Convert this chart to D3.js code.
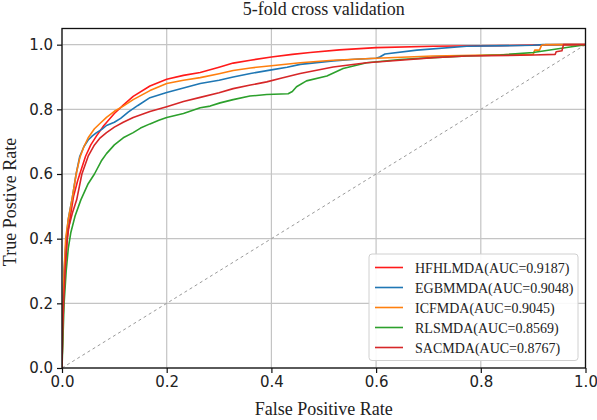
<!DOCTYPE html>
<html>
<head>
<meta charset="utf-8">
<script src="https://cdn.jsdelivr.net/npm/d3@7"></script>
<style>
  html, body { margin: 0; padding: 0; background: #fff; }
  svg { display: block; }
</style>
</head>
<body>
<svg id="chart" width="597" height="420"></svg>
<script>
// ---------------- DATA ----------------
const seriesNames = ["HFHLMDA(AUC=0.9187)", "EGBMMDA(AUC=0.9048)", "ICFMDA(AUC=0.9045)", "RLSMDA(AUC=0.8569)", "SACMDA(AUC=0.8767)"];
const xTicks = [0.0, 0.2, 0.4, 0.6, 0.8, 1.0];
const yTicks = [0.0, 0.2, 0.4, 0.6, 0.8, 1.0];

const hfhlmdaFpr = [0, 0.001, 0.003, 0.006, 0.010, 0.016, 0.022, 0.030, 0.036, 0.045, 0.055, 0.066, 0.080, 0.100, 0.117, 0.136, 0.168, 0.200, 0.232, 0.264, 0.300, 0.327, 0.360, 0.400, 0.440, 0.474, 0.530, 0.600, 0.709, 0.837, 0.958, 1.0];
const hfhlmdaTpr = [0, 0.10, 0.20, 0.30, 0.40, 0.47, 0.53, 0.58, 0.61, 0.655, 0.690, 0.718, 0.750, 0.787, 0.813, 0.840, 0.872, 0.893, 0.905, 0.914, 0.930, 0.943, 0.952, 0.962, 0.970, 0.976, 0.984, 0.991, 0.995, 0.997, 1.0, 1.0];

const egbmmdaFpr = [0, 0.001, 0.002, 0.004, 0.008, 0.012, 0.020, 0.027, 0.034, 0.042, 0.050, 0.058, 0.066, 0.076, 0.085, 0.100, 0.112, 0.127, 0.145, 0.168, 0.200, 0.232, 0.264, 0.300, 0.327, 0.360, 0.400, 0.430, 0.455, 0.518, 0.560, 0.600, 0.607, 0.617, 0.678, 0.773, 0.900, 0.919, 1.0];
const egbmmdaTpr = [0, 0.10, 0.20, 0.30, 0.40, 0.46, 0.53, 0.60, 0.655, 0.685, 0.705, 0.718, 0.728, 0.738, 0.750, 0.760, 0.772, 0.792, 0.812, 0.836, 0.852, 0.866, 0.880, 0.890, 0.900, 0.911, 0.922, 0.930, 0.939, 0.950, 0.955, 0.958, 0.962, 0.971, 0.983, 0.995, 0.998, 1.0, 1.0];

const icfmdaFpr = [0, 0.001, 0.002, 0.004, 0.007, 0.012, 0.019, 0.027, 0.034, 0.042, 0.050, 0.062, 0.073, 0.085, 0.100, 0.117, 0.136, 0.168, 0.200, 0.232, 0.264, 0.300, 0.327, 0.360, 0.400, 0.455, 0.518, 0.600, 0.709, 0.837, 0.900, 0.903, 0.912, 0.916, 0.923, 1.0];
const icfmdaTpr = [0, 0.10, 0.20, 0.30, 0.40, 0.46, 0.52, 0.60, 0.650, 0.685, 0.712, 0.740, 0.757, 0.775, 0.794, 0.810, 0.830, 0.858, 0.880, 0.890, 0.898, 0.910, 0.920, 0.928, 0.935, 0.944, 0.952, 0.958, 0.965, 0.969, 0.970, 0.983, 0.983, 0.998, 1.0, 1.0];

const rlsmdaFpr = [0, 0.002, 0.004, 0.008, 0.012, 0.017, 0.025, 0.036, 0.050, 0.062, 0.075, 0.085, 0.100, 0.117, 0.136, 0.150, 0.168, 0.185, 0.200, 0.232, 0.264, 0.283, 0.302, 0.327, 0.359, 0.391, 0.432, 0.440, 0.448, 0.467, 0.506, 0.537, 0.582, 0.646, 0.709, 0.773, 0.837, 0.900, 0.964, 1.0];
const rlsmdaTpr = [0, 0.10, 0.20, 0.30, 0.37, 0.42, 0.47, 0.52, 0.570, 0.600, 0.640, 0.663, 0.690, 0.712, 0.728, 0.742, 0.755, 0.766, 0.775, 0.787, 0.805, 0.810, 0.820, 0.830, 0.841, 0.846, 0.848, 0.855, 0.870, 0.888, 0.903, 0.926, 0.944, 0.954, 0.960, 0.965, 0.968, 0.976, 0.991, 1.0];

const sacmdaFpr = [0, 0.001, 0.003, 0.006, 0.009, 0.012, 0.020, 0.028, 0.038, 0.050, 0.062, 0.073, 0.085, 0.100, 0.117, 0.136, 0.168, 0.200, 0.232, 0.264, 0.300, 0.327, 0.360, 0.391, 0.420, 0.455, 0.518, 0.582, 0.646, 0.709, 0.773, 0.900, 0.942, 0.944, 0.955, 0.958, 1.0];
const sacmdaTpr = [0, 0.10, 0.20, 0.30, 0.38, 0.43, 0.48, 0.52, 0.600, 0.655, 0.690, 0.712, 0.728, 0.745, 0.760, 0.775, 0.793, 0.808, 0.824, 0.837, 0.851, 0.864, 0.875, 0.885, 0.897, 0.911, 0.931, 0.944, 0.952, 0.960, 0.965, 0.968, 0.970, 0.978, 0.981, 1.0, 1.0];

const seriesFpr = [hfhlmdaFpr, egbmmdaFpr, icfmdaFpr, rlsmdaFpr, sacmdaFpr];
const seriesTpr = [hfhlmdaTpr, egbmmdaTpr, icfmdaTpr, rlsmdaTpr, sacmdaTpr];

// ---------------- STYLE ----------------
const colors = ["#ff1a1a", "#1f77b4", "#ff7f0e", "#2ca02c", "#d62728"];
const W = 597, H = 420;
const margin = { left: 62, right: 11.5, top: 28.5, bottom: 52 };
const serif = "'Liberation Serif', 'Times New Roman', serif";
const sans = "'DejaVu Sans', sans-serif";

const svg = d3.select("#chart");
const x = d3.scaleLinear().domain([0, 1]).range([margin.left, W - margin.right]);
const y = d3.scaleLinear().domain([0, 1.05]).range([H - margin.bottom, margin.top]);

// grid
const grid = svg.append("g");
grid.selectAll("line.gx").data(xTicks).enter().append("line")
  .attr("x1", d => x(d)).attr("x2", d => x(d))
  .attr("y1", y(0)).attr("y2", y(1.05))
  .attr("stroke", "#c4c4c4").attr("stroke-width", 1.2);
grid.selectAll("line.gy").data(yTicks).enter().append("line")
  .attr("x1", x(0)).attr("x2", x(1))
  .attr("y1", d => y(d)).attr("y2", d => y(d))
  .attr("stroke", "#c4c4c4").attr("stroke-width", 1.2);

// diagonal
svg.append("line")
  .attr("x1", x(0)).attr("y1", y(0)).attr("x2", x(1)).attr("y2", y(1))
  .attr("stroke", "#9a9a9a").attr("stroke-width", 1).attr("stroke-dasharray", "3,3");

// curves
const clip = svg.append("clipPath").attr("id", "clip").append("rect")
  .attr("x", x(0)).attr("y", y(1.05)).attr("width", x(1) - x(0)).attr("height", y(0) - y(1.05));
const line = d3.line().x(d => x(d[0])).y(d => y(d[1]));
const curves = svg.append("g").attr("clip-path", "url(#clip)");
seriesNames.forEach((name, i) => {
  const pts = seriesFpr[i].map((f, k) => [f, seriesTpr[i][k]]);
  curves.append("path").datum(pts)
    .attr("d", line)
    .attr("fill", "none")
    .attr("stroke", colors[i])
    .attr("stroke-width", 1.6)
    .attr("stroke-linejoin", "round");
});

// frame
svg.append("rect")
  .attr("x", x(0)).attr("y", y(1.05)).attr("width", x(1) - x(0)).attr("height", y(0) - y(1.05))
  .attr("fill", "none").attr("stroke", "#111").attr("stroke-width", 1.3);

// axes
const xAxis = d3.axisBottom(x).tickValues(xTicks).tickFormat(d3.format(".1f")).tickSize(5).tickPadding(3);
const yAxis = d3.axisLeft(y).tickValues(yTicks).tickFormat(d3.format(".1f")).tickSize(5).tickPadding(4);
const gx = svg.append("g").attr("transform", `translate(0,${y(0)})`).call(xAxis);
const gy = svg.append("g").attr("transform", `translate(${x(0)},0)`).call(yAxis);
[gx, gy].forEach(g => {
  g.select(".domain").remove();
  g.selectAll(".tick line").attr("stroke", "#111").attr("stroke-width", 1.2);
  g.selectAll(".tick text").attr("font-family", sans).attr("font-size", 15).attr("fill", "#222");
});

// title & labels
svg.append("text").attr("x", (x(0) + x(1)) / 2).attr("y", 15)
  .attr("text-anchor", "middle").attr("font-family", serif).attr("font-size", 18).attr("fill", "#222")
  .text("5-fold cross validation");
svg.append("text").attr("x", (x(0) + x(1)) / 2).attr("y", 415)
  .attr("text-anchor", "middle").attr("font-family", serif).attr("font-size", 18).attr("fill", "#222")
  .text("False Positive Rate");
svg.append("text").attr("transform", `translate(16,202) rotate(-90)`)
  .attr("text-anchor", "middle").attr("font-family", serif).attr("font-size", 18).attr("fill", "#222")
  .text("True Postive Rate");

// legend
const lgRight = x(1) - 7.5, lgBottom = y(0) - 7.5;
const rowH = 20;
const lgW = 209, lgH = 106.5;
const lg = svg.append("g").attr("transform", `translate(${lgRight - lgW},${lgBottom - lgH})`);
lg.append("rect").attr("width", lgW).attr("height", lgH).attr("rx", 3)
  .attr("fill", "#fff").attr("fill-opacity", 0.9).attr("stroke", "#d0d0d0").attr("stroke-width", 1);
seriesNames.forEach((name, i) => {
  const cy = 13.5 + i * rowH;
  lg.append("line").attr("x1", 6).attr("x2", 34).attr("y1", cy).attr("y2", cy)
    .attr("stroke", colors[i]).attr("stroke-width", 1.6);
  lg.append("text").attr("x", 46).attr("y", cy + 5)
    .attr("font-family", serif).attr("font-size", 14).attr("fill", "#222").text(name);
});
</script>
</body>
</html>
